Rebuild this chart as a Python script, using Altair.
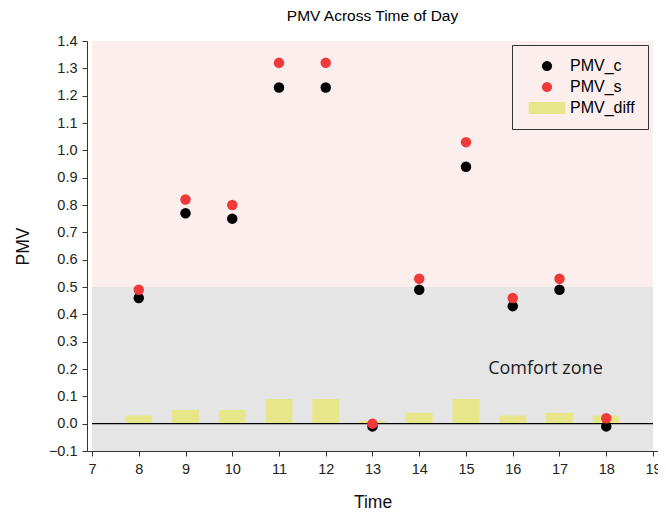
import altair as alt
import pandas as pd

hours = [8, 9, 10, 11, 12, 13, 14, 15, 16, 17, 18]
pmv_c = [0.46, 0.77, 0.75, 1.23, 1.23, -0.01, 0.49, 0.94, 0.43, 0.49, -0.01]
pmv_s = [0.49, 0.82, 0.80, 1.32, 1.32, 0.00, 0.53, 1.03, 0.46, 0.53, 0.02]
pmv_diff = [0.03, 0.05, 0.05, 0.09, 0.09, 0.01, 0.04, 0.09, 0.03, 0.04, 0.03]

x_ticks = list(range(7, 20))
y_ticks = [round(-0.1 + 0.1 * i, 1) for i in range(16)]
warm_zone = pd.DataFrame({"x0": [7], "x1": [19], "y0": [0.5], "y1": [1.4]})
comfort_zone = pd.DataFrame({"x0": [7], "x1": [19], "y0": [-0.1], "y1": [0.5]})

series = ["PMV_c", "PMV_s", "PMV_diff"]
colors = ["#000000", "#f03a3a", "#e8e68a"]
shapes = ["circle", "circle", "M-3.6,-1.15H3.6V1.15H-3.6Z"]

pts = pd.DataFrame({
    "Time": hours * 2,
    "PMV": pmv_c + pmv_s,
    "Series": ["PMV_c"] * len(hours) + ["PMV_s"] * len(hours),
})
bars = pd.DataFrame({"Time": hours, "PMV": pmv_diff, "Series": ["PMV_diff"] * len(hours)})

FONT = "Liberation Sans"
xscale = alt.Scale(domain=[7, 19], nice=False, zero=False)
yscale = alt.Scale(domain=[-0.1, 1.4], nice=False, zero=False)
color = alt.Color("Series:N", scale=alt.Scale(domain=series, range=colors),
                  legend=alt.Legend(title=None, orient="none", legendX=425, legendY=4,
                                    strokeColor="#333333", fillColor="#fdeeee", padding=13,
                                    labelFontSize=16, labelFont=FONT, symbolSize=105,
                                    rowPadding=5, symbolOffset=14, labelOffset=15,
                                    symbolStrokeWidth=0, labelLimit=300,
                                    labelExpr="datum.label + '     '"))

xaxis = alt.Axis(values=x_ticks, tickCount=20, format="d", title="Time", titlePadding=18,
                 labelPadding=6)
yaxis = alt.Axis(values=y_ticks, tickCount=20, format=".1f", title="PMV", titlePadding=16,
                 labelPadding=5)

warm = alt.Chart(warm_zone).mark_rect(color="#fdeeee").encode(
    x=alt.X("x0:Q", scale=xscale, axis=xaxis), x2="x1:Q",
    y=alt.Y("y0:Q", scale=yscale, axis=yaxis), y2="y1:Q")
comfort = alt.Chart(comfort_zone).mark_rect(color="#e5e5e5").encode(
    x=alt.X("x0:Q", scale=xscale), x2="x1:Q",
    y=alt.Y("y0:Q", scale=yscale), y2="y1:Q")

bar = alt.Chart(bars).mark_bar(size=27).encode(
    x=alt.X("Time:Q", scale=xscale),
    y=alt.Y("PMV:Q", scale=yscale),
    color=color,
)

zero = alt.Chart(pd.DataFrame({"x0": [7], "x1": [19], "y": [0.0]})).mark_rule(
    color="#000000", strokeWidth=1.2).encode(
    x=alt.X("x0:Q", scale=xscale), x2="x1:Q", y=alt.Y("y:Q", scale=yscale))

points = alt.Chart(pts).mark_point(filled=True, size=110, opacity=1).encode(
    x=alt.X("Time:Q", scale=xscale),
    y=alt.Y("PMV:Q", scale=yscale),
    color=color,
    shape=alt.Shape("Series:N", scale=alt.Scale(domain=series, range=shapes)),
    order=alt.Order("Series:N", sort="ascending"),
)

label = alt.Chart(pd.DataFrame({"x": [16.7], "y": [0.2], "t": ["Comfort zone"]})).mark_text(
    fontSize=18, font="Open Sans", color="#1a1a1a").encode(
    x=alt.X("x:Q", scale=xscale), y=alt.Y("y:Q", scale=yscale), text="t:N")

chart = alt.layer(warm, comfort, bar, zero, points, label).properties(
    width=571, height=410,
    title=alt.TitleParams("PMV Across Time of Day", fontSize=15.5, font=FONT,
                          fontWeight="normal", anchor="middle", offset=9),
    autosize=alt.AutoSizeParams(type="none"),
    padding={"left": 79, "top": 33, "right": 0, "bottom": 61},
).configure_view(stroke=None).configure_axis(
    grid=False, labelOverlap=False, labelFlush=False, labelFontSize=14.5, titleFontSize=17.5,
    labelFont=FONT, titleFont=FONT, titleFontWeight="normal", domainColor="#333333",
    tickColor="#333333", labelColor="#222222", titleColor="#111111", tickSize=5,
)

chart.save("out.html", embed_options={"renderer": "svg", "actions": False})
